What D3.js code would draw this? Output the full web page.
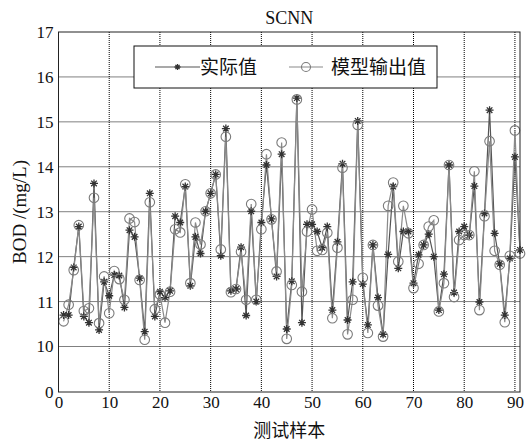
<!DOCTYPE html>
<html><head><meta charset="utf-8">
<script src="https://cdn.jsdelivr.net/npm/d3@7"></script>
<style>body{margin:0;background:#fff}svg{display:block}</style>
</head><body>
<svg id="chart" width="530" height="441"></svg>
<script>
const title = "SCNN";
const xLabel = "测试样本";
const yLabel = "BOD /(mg/L)";
const seriesNames = ["实际值", "模型输出值"];
const xTicks = [0,10,20,30,40,50,60,70,80,90];
const yTicks = [0,10,11,12,13,14,15,16,17];
const actual = [10.70,10.70,11.76,12.67,10.67,10.53,13.63,10.37,11.44,11.13,
11.59,11.58,10.87,12.59,12.44,11.52,10.33,13.41,10.67,11.22,
11.09,11.24,12.90,12.76,13.56,11.35,12.44,12.07,13.01,13.41,
13.83,12.02,14.85,11.24,11.28,12.21,10.69,13.01,11.00,12.76,
14.04,12.84,11.56,14.28,10.39,11.45,15.53,10.53,12.72,12.72,
12.56,12.20,12.67,10.81,12.33,14.07,10.59,11.44,15.02,11.39,
10.48,12.26,11.09,10.27,12.05,13.56,11.74,12.56,12.56,11.41,
12.04,12.26,12.50,12.00,10.81,11.61,14.04,11.20,12.56,12.67,
12.48,13.57,10.99,12.96,15.26,12.52,11.84,10.70,11.96,14.22,12.15];
const model = [10.56,10.93,11.70,12.70,10.79,10.85,13.31,10.52,11.56,10.74,
11.68,11.50,11.04,12.85,12.77,11.48,10.15,13.21,10.83,11.16,
10.53,11.22,12.61,12.54,13.61,11.41,12.76,12.27,13.01,13.41,
13.83,12.16,14.67,11.21,11.28,12.11,11.04,13.17,11.04,12.61,
14.28,12.83,11.67,14.54,10.17,11.37,15.50,11.22,12.56,13.05,
12.13,12.15,12.53,10.63,12.20,13.98,10.27,11.04,14.93,11.53,
10.30,12.26,10.91,10.22,13.13,13.65,11.89,13.13,12.52,11.30,
11.84,12.26,12.67,12.81,10.78,11.41,14.04,11.10,12.37,12.48,
12.48,13.90,10.81,12.90,14.57,12.13,11.82,10.54,12.02,14.81,12.07];

const svg = d3.select("#chart");
const L = 58.5, R = 520, T = 32, B = 392;
const x = d3.scaleLinear().domain([0, 91]).range([L, R]);
const y = d3.scaleLinear().domain([0, 10, 17]).range([B, 346.5, T]);
const serif = "'Liberation Serif','Times New Roman',serif";
const cjk = "'Noto Sans CJK SC',sans-serif";

// grid
const g = svg.append("g");
g.selectAll(".vg").data(xTicks.filter(d => d > 0)).join("line")
  .attr("x1", d => x(d)).attr("x2", d => x(d)).attr("y1", T).attr("y2", B)
  .attr("stroke", "#000").attr("stroke-width", 1).attr("stroke-dasharray", "1,1");
g.selectAll(".hg").data(yTicks.filter(d => d > 0 && d < 17)).join("line")
  .attr("x1", L).attr("x2", R).attr("y1", d => y(d)).attr("y2", d => y(d))
  .attr("stroke", "#000").attr("stroke-width", 1).attr("stroke-dasharray", "1,1");

// axes
const xAxis = d3.axisBottom(x).tickValues(xTicks).tickSize(0).tickPadding(4).tickFormat(d3.format("d"));
const yAxis = d3.axisLeft(y).tickValues(yTicks).tickSize(0).tickPadding(5).tickFormat(d3.format("d"));
const ax = svg.append("g").attr("transform", `translate(0,${B})`).call(xAxis);
const ay = svg.append("g").attr("transform", `translate(${L},0)`).call(yAxis);
[ax, ay].forEach(a => {
  a.select(".domain").remove();
  a.selectAll("text").attr("font-family", serif).attr("font-size", 17).attr("fill", "#111");
});
ay.selectAll("text").attr("dy", "0.32em");

// series
const idx = d3.range(1, actual.length + 1);
const line = d3.line().x((d, i) => x(idx[i])).y(d => y(d));
svg.append("path").datum(actual).attr("d", line).attr("fill", "none")
  .attr("stroke", "#555").attr("stroke-width", 1.2);
svg.append("path").datum(model).attr("d", line).attr("fill", "none")
  .attr("stroke", "#8a8a8a").attr("stroke-width", 1.2);

function star(sel, cx, cy, s, color) {
  const a = s * 0.7;
  const p = `M${cx - s},${cy}L${cx + s},${cy}M${cx},${cy - s}L${cx},${cy + s}` +
    `M${cx - a},${cy - a}L${cx + a},${cy + a}M${cx - a},${cy + a}L${cx + a},${cy - a}`;
  sel.append("path").attr("d", p).attr("stroke", color).attr("stroke-width", 1.3).attr("fill", "none");
}
const sg = svg.append("g");
actual.forEach((v, i) => star(sg, x(idx[i]), y(v), 4, "#333"));
svg.append("g").selectAll("circle").data(model).join("circle")
  .attr("cx", (d, i) => x(idx[i])).attr("cy", d => y(d)).attr("r", 4.8)
  .attr("fill", "none").attr("stroke", "#7a7a7a").attr("stroke-width", 1.1);

// box
svg.append("rect").attr("x", L).attr("y", T).attr("width", R - L).attr("height", B - T)
  .attr("fill", "none").attr("stroke", "#222").attr("stroke-width", 1);

// legend
const lg = svg.append("g");
lg.append("rect").attr("x", 134).attr("y", 46).attr("width", 303).attr("height", 42)
  .attr("fill", "#fff").attr("stroke", "#111").attr("stroke-width", 1);
const ly = 67;
lg.append("line").attr("x1", 155).attr("x2", 200).attr("y1", ly).attr("y2", ly).attr("stroke", "#555").attr("stroke-width", 1.2);
star(lg, 177.5, ly, 3, "#333");
lg.append("text").attr("x", 200).attr("y", ly).attr("dy", "0.36em").text(seriesNames[0])
  .attr("font-family", cjk).attr("font-size", 19).attr("fill", "#111");
lg.append("line").attr("x1", 289).attr("x2", 323).attr("y1", ly).attr("y2", ly).attr("stroke", "#8a8a8a").attr("stroke-width", 1.2);
lg.append("circle").attr("cx", 306).attr("cy", ly).attr("r", 4.5).attr("fill", "none").attr("stroke", "#7a7a7a").attr("stroke-width", 1.1);
lg.append("text").attr("x", 331).attr("y", ly).attr("dy", "0.36em").text(seriesNames[1])
  .attr("font-family", cjk).attr("font-size", 19).attr("fill", "#111");

// titles
svg.append("text").attr("x", (L + R) / 2).attr("y", 24).attr("text-anchor", "middle")
  .attr("font-family", serif).attr("font-size", 18).attr("fill", "#111").text(title);
svg.append("text").attr("x", (L + R) / 2).attr("y", 437).attr("text-anchor", "middle")
  .attr("font-family", cjk).attr("font-size", 18).attr("fill", "#111").text(xLabel);
svg.append("text").attr("transform", `translate(26,212) rotate(-90)`)
  .attr("text-anchor", "middle").attr("font-family", serif).attr("font-size", 19)
  .attr("fill", "#111").text(yLabel);
</script>
</body></html>
